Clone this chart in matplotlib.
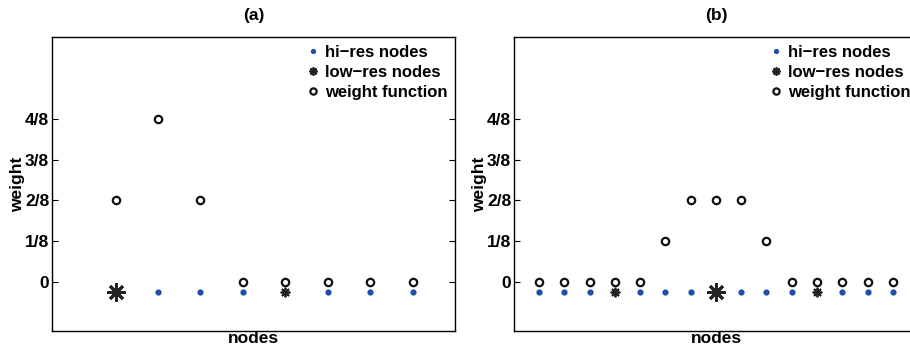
import numpy as np
import matplotlib.pyplot as plt

plt.rcParams['font.family'] = ['Liberation Sans', 'DejaVu Sans']
plt.rcParams['font.weight'] = 'bold'

# panel (a): 8 hi-res nodes
nodes_a = [1, 2, 3, 4, 5, 6, 7, 8]
weight_a = [2/8, 4/8, 2/8, 0, 0, 0, 0, 0]
hires_a = [2, 3, 4, 6, 7, 8]
lowres_big_a = [1]
lowres_small_a = [5]

# panel (b): 15 hi-res nodes
nodes_b = list(range(1, 16))
weight_b = [0, 0, 0, 0, 0, 1/8, 2/8, 2/8, 2/8, 1/8, 0, 0, 0, 0, 0]
hires_b = [1, 2, 3, 5, 6, 7, 9, 10, 11, 13, 14, 15]
lowres_big_b = [8]
lowres_small_b = [4, 12]

yticks = [0, 1/8, 2/8, 3/8, 4/8]
yticklabels = ["0", "1/8", "2/8", "3/8", "4/8"]
node_y = -0.03

star = (8, 2, 0)


def draw_panel(ax, nodes, weight, hires, big, small, title, xlim):
    ax.plot(hires, [node_y] * len(hires), 'o', color='#1f4fa8', ms=4.5,
            mec='none', label='hi\u2212res nodes')
    ax.plot(small, [node_y] * len(small), marker=star, ls='none', color='#222222',
            ms=7, mew=1.3, label='low\u2212res nodes')
    ax.plot(big, [node_y] * len(big), marker=star, ls='none', color='#222222',
            ms=13, mew=2.0)
    ax.plot(nodes, weight, 'o', mfc='none', mec='#111111', ms=5.3, mew=1.6,
            label='weight function')
    ax.set_xlim(*xlim)
    ax.set_ylim(-0.15, 0.75)
    ax.set_xticks([])
    ax.set_yticks(yticks)
    ax.set_yticklabels(yticklabels, fontsize=12.5, fontweight='bold')
    ax.tick_params(axis='y', direction='in', length=4, right=True, pad=2)
    ax.set_xlabel('nodes', fontsize=12.5, fontweight='bold', labelpad=0)
    ax.set_ylabel('weight', fontsize=12.5, fontweight='bold', labelpad=0)
    ax.set_title(title, fontsize=12.5, fontweight='bold', pad=12)
    for s in ax.spines.values():
        s.set_linewidth(1.0)
    leg = ax.legend(loc='upper right', frameon=False, fontsize=12, handlelength=0.5,
                    handletextpad=0.45, borderaxespad=0.05, labelspacing=0.3,
                    markerscale=0.85)
    for t in leg.get_texts():
        t.set_fontweight('bold')


fig = plt.figure(figsize=(9.1, 3.49), dpi=100)
ax1 = fig.add_axes([0.0571, 0.0516, 0.443, 0.842])
ax2 = fig.add_axes([0.5648, 0.0516, 0.444, 0.842])

draw_panel(ax1, nodes_a, weight_a, hires_a, lowres_big_a, lowres_small_a, '(a)', (-0.5, 9))
draw_panel(ax2, nodes_b, weight_b, hires_b, lowres_big_b, lowres_small_b, '(b)', (0, 16))

fig.savefig('out.png', dpi=100)
